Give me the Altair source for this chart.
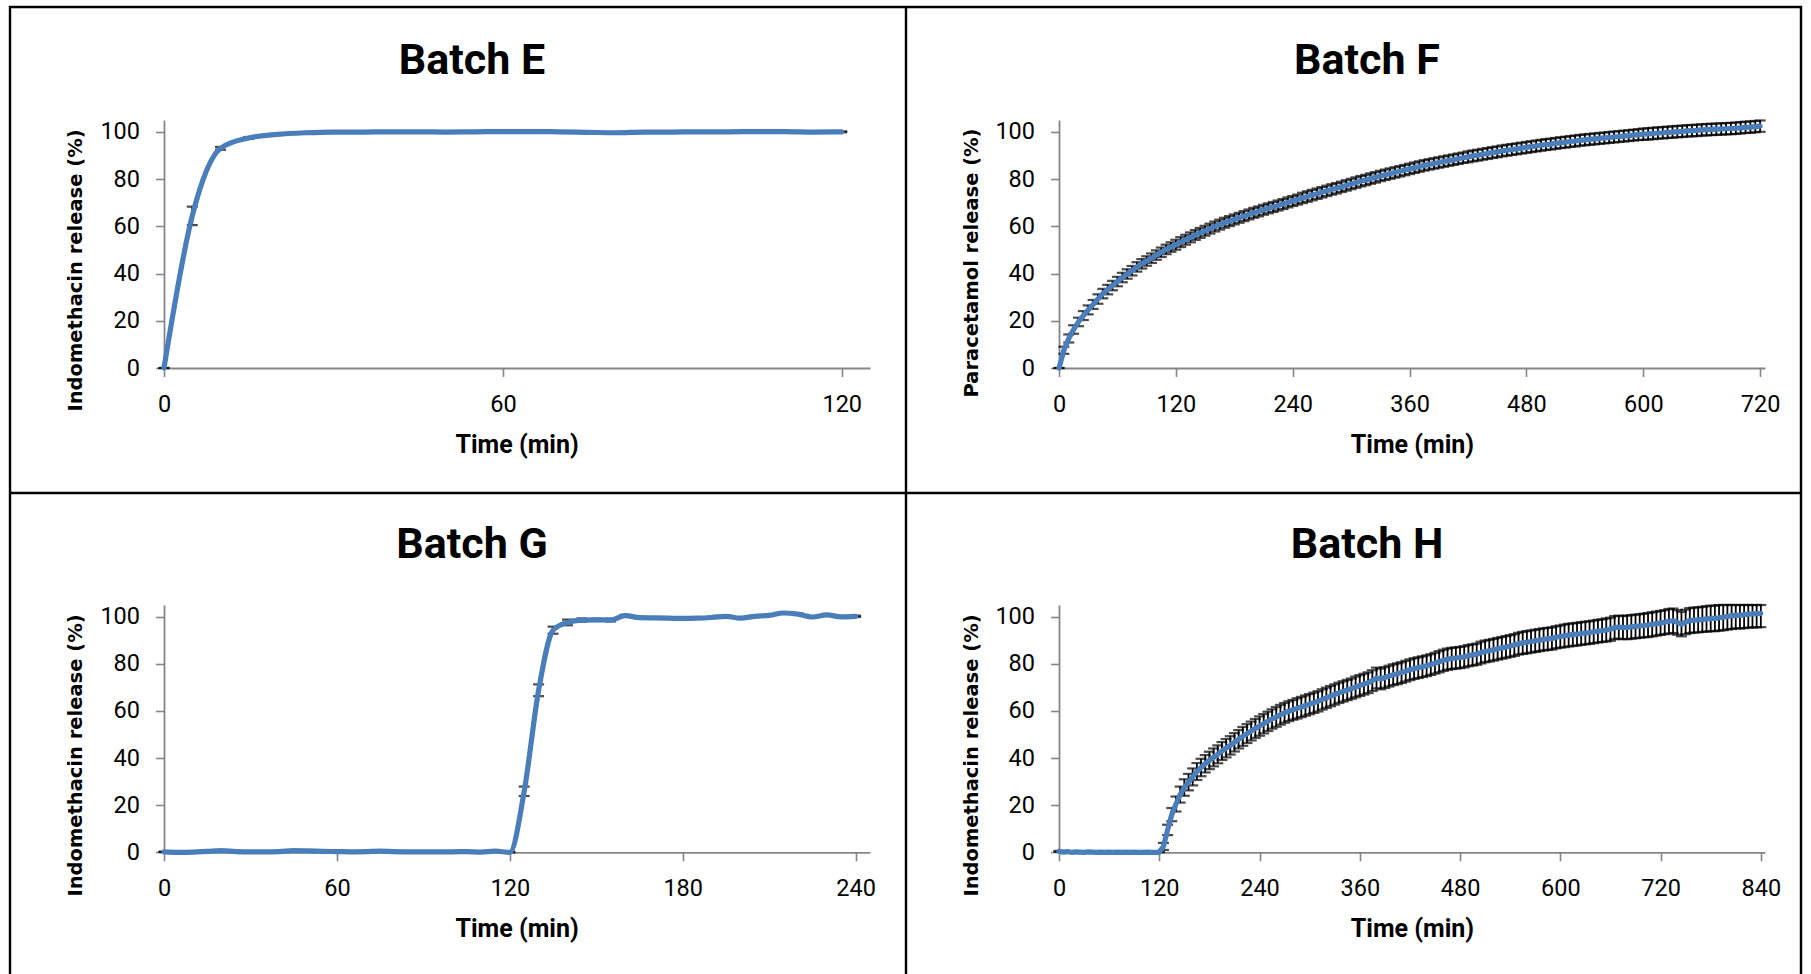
import altair as alt
import pandas as pd

# ---------------- data ----------------
E_TIME = list(range(0, 125, 5))
E_MEAN = [0.0, 64.4, 93.0, 97.4, 98.9, 99.6, 99.9, 99.9, 100.0, 100.0,
          99.9, 100.0, 100.1, 100.1, 100.0, 99.8, 99.6, 99.9, 99.9, 100.0,
          100.0, 100.1, 100.1, 99.9, 100.0]
E_SD = [0.0, 3.9, 0.6, 0.4, 0.3, 0.2, 0.2, 0.2, 0.2, 0.2,
        0.2, 0.2, 0.2, 0.2, 0.2, 0.2, 0.2, 0.2, 0.2, 0.2,
        0.2, 0.2, 0.2, 0.2, 0.2]

F_TIME = list(range(0, 725, 5))
F_MEAN = [0.0, 7.5, 12.5, 16.3, 19.5, 22.2, 24.6, 26.9, 29.2, 31.5,
          33.2, 34.9, 36.6, 38.3, 39.8, 41.2, 42.8, 44.1, 45.3, 46.5,
          47.8, 49.0, 50.2, 51.2, 52.2, 53.3, 54.3, 55.3, 56.3, 57.2,
          58.1, 59.0, 59.9, 60.7, 61.5, 62.2, 62.9, 63.6, 64.3, 65.0,
          65.7, 66.3, 67.0, 67.6, 68.2, 68.8, 69.4, 70.1, 70.7, 71.3,
          72.0, 72.6, 73.2, 73.8, 74.4, 75.0, 75.6, 76.1, 76.7, 77.3,
          77.9, 78.5, 79.1, 79.6, 80.2, 80.7, 81.3, 81.8, 82.3, 82.8,
          83.3, 83.8, 84.3, 84.8, 85.3, 85.8, 86.2, 86.6, 87.0, 87.4,
          87.8, 88.2, 88.6, 89.0, 89.4, 89.8, 90.1, 90.5, 90.8, 91.2,
          91.5, 91.9, 92.2, 92.5, 92.8, 93.1, 93.4, 93.7, 94.0, 94.3,
          94.6, 94.8, 95.1, 95.4, 95.6, 95.9, 96.1, 96.4, 96.6, 96.8,
          97.0, 97.2, 97.4, 97.6, 97.8, 98.0, 98.2, 98.4, 98.6, 98.8,
          99.0, 99.1, 99.3, 99.5, 99.6, 99.8, 99.9, 100.1, 100.2, 100.4,
          100.5, 100.6, 100.8, 100.9, 101.0, 101.1, 101.2, 101.3, 101.4, 101.5,
          101.7, 101.9, 102.0, 102.2, 102.4]
F_SD = [0.0, 1.5, 1.7, 1.8, 1.8, 1.9, 1.9, 1.9, 2.0, 2.0,
        2.0, 2.0, 2.0, 2.0, 2.0, 2.0, 2.0, 2.0, 2.0, 2.0,
        2.0, 2.0, 2.0, 2.0, 2.1, 2.1, 2.1, 2.1, 2.1, 2.1,
        2.1, 2.1, 2.1, 2.1, 2.1, 2.1, 2.1, 2.1, 2.1, 2.1,
        2.1, 2.1, 2.1, 2.1, 2.1, 2.1, 2.1, 2.1, 2.1, 2.1,
        2.2, 2.2, 2.2, 2.2, 2.2, 2.2, 2.2, 2.2, 2.2, 2.2,
        2.2, 2.2, 2.2, 2.2, 2.2, 2.2, 2.2, 2.2, 2.2, 2.2,
        2.2, 2.2, 2.2, 2.2, 2.2, 2.2, 2.2, 2.2, 2.2, 2.2,
        2.2, 2.2, 2.2, 2.2, 2.3, 2.3, 2.3, 2.3, 2.3, 2.3,
        2.3, 2.3, 2.3, 2.3, 2.3, 2.3, 2.3, 2.3, 2.3, 2.3,
        2.3, 2.3, 2.3, 2.3, 2.3, 2.3, 2.3, 2.3, 2.3, 2.3,
        2.3, 2.3, 2.3, 2.3, 2.3, 2.3, 2.3, 2.3, 2.3, 2.3,
        2.4, 2.4, 2.4, 2.4, 2.4, 2.4, 2.4, 2.4, 2.4, 2.4,
        2.4, 2.4, 2.4, 2.4, 2.4, 2.4, 2.4, 2.4, 2.4, 2.4,
        2.4, 2.4, 2.4, 2.4, 2.4]

G_TIME = list(range(0, 245, 5))
G_MEAN = [0.2, 0.0, 0.1, 0.4, 0.7, 0.3, 0.2, 0.2, 0.3, 0.7,
          0.6, 0.4, 0.3, 0.2, 0.3, 0.5, 0.3, 0.2, 0.2, 0.2,
          0.2, 0.3, 0.1, 0.5, 0.0, 25.9, 68.8, 94.3, 97.6, 98.6,
          98.7, 98.6, 100.5, 99.6, 99.5, 99.4, 99.3, 99.4, 99.7, 100.2,
          99.4, 100.2, 100.6, 101.6, 101.1, 99.9, 100.8, 100.0, 100.2]
G_SD = [0.1, 0.1, 0.1, 0.1, 0.1, 0.1, 0.1, 0.1, 0.1, 0.1,
        0.1, 0.1, 0.1, 0.1, 0.1, 0.1, 0.1, 0.1, 0.1, 0.1,
        0.1, 0.1, 0.1, 0.1, 0.3, 2.0, 2.5, 1.5, 1.2, 0.7,
        0.5, 0.6, 0.3, 0.3, 0.3, 0.3, 0.3, 0.3, 0.3, 0.3,
        0.3, 0.3, 0.3, 0.3, 0.3, 0.3, 0.3, 0.3, 0.3]

H_TIME = list(range(0, 845, 5))
H_MEAN = [0.4, 0.1, 0.3, 0.0, 0.2, 0.1, 0.0, 0.2, 0.1, 0.0,
          0.1, 0.0, 0.1, 0.0, 0.1, 0.0, 0.1, 0.0, 0.1, 0.0,
          0.0, 0.1, 0.0, 0.0, 0.0,
          2.5, 9.5, 16.0, 20.5, 24.5, 27.5, 29.8, 32.0, 34.3, 36.0,
          37.6, 39.0, 40.3, 41.6, 43.0, 44.2, 45.4,
          46.7, 48.0, 49.2, 50.4, 51.5, 52.6, 53.6, 54.6, 55.6, 56.6,
          57.5, 58.4, 59.2, 59.9, 60.5, 61.1, 61.7, 62.3, 62.9,
          63.5, 64.1, 64.9, 65.6, 66.3, 67.0, 67.7, 68.3, 68.9, 69.5,
          70.2, 70.8, 71.4, 72.0, 72.9, 74.0, 73.6, 74.2, 74.8, 75.4, 75.8,
          76.3, 76.9, 77.5, 78.0, 78.4, 78.8, 79.2, 79.7, 80.3, 80.9,
          81.5, 82.0, 82.3, 82.5, 82.7, 83.0, 83.5, 83.8, 84.1,
          84.8, 85.3, 85.6, 86.0, 86.4, 86.8, 87.2, 87.6, 88.0, 88.6,
          88.9, 89.2, 89.5, 89.8, 90.1, 90.4, 90.6, 90.8, 91.3, 91.6,
          91.9, 92.2, 92.4, 92.6, 92.9, 93.1, 93.3, 93.6, 93.9, 94.1,
          94.4, 94.7, 95.4, 95.6, 95.4, 95.5, 95.7, 95.9, 96.1, 96.3,
          96.5, 96.8, 97.1, 97.4, 97.7, 98.1, 98.3, 97.6, 96.9, 97.8,
          98.4, 98.6, 98.7, 98.9, 99.1, 99.3, 99.3, 99.6, 99.8, 100.1,
          100.4, 100.7, 100.6, 100.9, 101.1, 101.2, 101.3, 101.4]
H_SD = [0.2, 0.2, 0.2, 0.2, 0.2, 0.2, 0.2, 0.2, 0.2, 0.2,
        0.2, 0.2, 0.2, 0.2, 0.2, 0.2, 0.2, 0.2, 0.2, 0.2,
        0.2, 0.2, 0.2, 0.2, 0.2,
        1.5, 2.2, 2.8, 3.2, 3.4, 3.5, 3.5, 3.6, 3.6, 3.7,
        3.7, 3.7, 3.8, 3.8, 3.8, 3.9, 3.9,
        3.9, 3.9, 4.0, 4.0, 4.0, 4.0, 4.1, 4.1, 4.1, 4.1,
        4.2, 4.2, 4.2, 4.2, 4.2, 4.3, 4.3, 4.3, 4.3,
        4.3, 4.3, 4.3, 4.3, 4.3, 4.3, 4.3, 4.3, 4.3, 4.3,
        4.4, 4.4, 4.4, 4.4, 4.4, 4.4, 4.4, 4.4, 4.4, 4.4, 4.4,
        4.4, 4.4, 4.4, 4.4, 4.4, 4.4, 4.4, 4.4, 4.4, 4.5,
        4.5, 4.5, 4.5, 4.5, 4.5, 4.5, 4.5, 4.5, 4.5,
        4.6, 4.6, 4.6, 4.6, 4.6, 4.6, 4.6, 4.6, 4.6, 4.6,
        4.7, 4.7, 4.7, 4.7, 4.7, 4.7, 4.7, 4.7, 4.7, 4.7,
        4.8, 4.8, 4.8, 4.8, 4.8, 4.8, 4.8, 4.8, 4.8, 4.8,
        4.9, 4.9, 4.9, 4.9, 4.9, 5.0, 5.0, 5.0, 5.0, 5.0,
        5.1, 5.1, 5.1, 5.1, 5.1, 5.2, 5.2, 5.2, 5.2, 5.2,
        5.3, 5.3, 5.3, 5.3, 5.4, 5.4, 5.4, 5.5, 5.5, 5.5,
        5.6, 5.6, 5.6, 5.7, 5.7, 5.7, 5.8, 5.8]

TITLES = ["Batch E", "Batch F", "Batch G", "Batch H"]
Y_TITLES = ["Indomethacin release (%)", "Paracetamol release (%)",
            "Indomethacin release (%)", "Indomethacin release (%)"]
X_TITLE = "Time (min)"
Y_TICKS = [0, 20, 40, 60, 80, 100]

# ---------------- styling ----------------
BLUE = "#4A7EBB"
GREY = "#868686"
NUM_FONT = "Roboto"
YT_FONT = "DejaVu Sans"
W, H = 1811, 974


def panel(time, mean, sd, xmax, xticks, xr, yr, x_off, y_off,
          ytitle, yt_x, yt_y, xt_x, interp):
    df = pd.DataFrame({"t": time, "m": mean, "s": sd})
    df["lo"] = (df["m"] - df["s"]).clip(lower=0)
    df["hi"] = (df["m"] + df["s"]).clip(upper=105)
    xs = alt.Scale(domain=[0, xmax], range=xr, nice=False, zero=False)
    ys = alt.Scale(domain=[0, 105], range=yr, nice=False, zero=False)
    xa = alt.Axis(orient="bottom", offset=x_off, values=xticks, format="d",
                  title=X_TITLE, titleX=xt_x, titleY=84, titleAlign="center",
                  titleBaseline="alphabetic", titleFont=NUM_FONT, titleFontSize=25,
                  titleFontWeight="bold", titleColor="black",
                  labelFont=NUM_FONT, labelFontSize=23.5, labelColor="black",
                  labelPadding=16, labelFlush=False, labelOverlap=False,
                  tickSize=8.5, tickWidth=1.6, tickColor=GREY,
                  domainColor=GREY, domainWidth=1.8, grid=False)
    ya = alt.Axis(orient="left", offset=y_off, values=Y_TICKS, format="d",
                  title=ytitle, titleX=yt_x, titleY=yt_y, titleAngle=270,
                  titleAlign="center", titleBaseline="middle",
                  titleFont=YT_FONT, titleFontSize=19.5, titleFontWeight="bold",
                  titleColor="black",
                  labelFont=NUM_FONT, labelFontSize=23.5, labelColor="black",
                  labelPadding=16, labelFlush=False, labelOverlap=False,
                  tickSize=8.5, tickWidth=1.6, tickColor=GREY,
                  domainColor=GREY, domainWidth=1.8, grid=False)
    base = alt.Chart(df)
    x = alt.X("t:Q", scale=xs, axis=xa)
    bars = base.mark_rule(color="black", strokeWidth=1.8).encode(
        x=x, y=alt.Y("lo:Q", scale=ys, axis=ya), y2="hi:Q")
    caps = base.transform_fold(["lo", "hi"], as_=["k", "v"]).mark_tick(
        orient="horizontal", size=11, thickness=2.2, color="black").encode(
        x=x, y=alt.Y("v:Q", scale=ys, axis=ya))
    line = base.mark_line(color=BLUE, strokeWidth=5.2, interpolate=interp,
                          strokeCap="round", strokeJoin="round").encode(
        x=x, y=alt.Y("m:Q", scale=ys, axis=ya))
    return alt.layer(bars, caps, line)


pE = panel(E_TIME, E_MEAN, E_SD, 125, [0, 60, 120], [164, 870], [368, 120],
           -(H - 368), -164, Y_TITLES[0], -88.4, 270, 516.6, "monotone")
pF = panel(F_TIME, F_MEAN, F_SD, 725, [0, 120, 240, 360, 480, 600, 720],
           [1059, 1765], [368, 120], -(H - 368), -1059, Y_TITLES[1],
           -87.6, 262.5, 1412, "linear")
pG = panel(G_TIME, G_MEAN, G_SD, 245, [0, 60, 120, 180, 240], [164, 870],
           [852.3, 605], -(H - 852.3), -164, Y_TITLES[2], -88.4, 755, 516.6,
           "monotone")
pH = panel(H_TIME, H_MEAN, H_SD, 845, [0, 120, 240, 360, 480, 600, 720, 840],
           [1059, 1765], [852.3, 605], -(H - 852.3), -1059, Y_TITLES[3],
           -87.6, 755, 1412, "linear")


def title_mark(text, xpos, ypos):
    return alt.Chart(pd.DataFrame({"label": [text]})).mark_text(
        font=NUM_FONT, fontSize=43, fontWeight="bold", color="black",
        align="center", baseline="alphabetic").encode(
        x=alt.value(xpos), y=alt.value(ypos), text="label:N")


tE = title_mark(TITLES[0], 472, 74)
tF = title_mark(TITLES[1], 1367, 74)
tG = title_mark(TITLES[2], 472, 558)
tH = title_mark(TITLES[3], 1367, 558)

one = pd.DataFrame({"k": [0]})
frame = alt.Chart(one).mark_rect(fillOpacity=0, stroke="black", strokeWidth=2.4).encode(
    x=alt.value(10), x2=alt.value(1801), y=alt.value(7), y2=alt.value(1010))
vdiv = alt.Chart(one).mark_rule(color="black", strokeWidth=2.4).encode(
    x=alt.value(906), y=alt.value(7), y2=alt.value(1010))
hdiv = alt.Chart(one).mark_rule(color="black", strokeWidth=2.4).encode(
    x=alt.value(10), x2=alt.value(1801), y=alt.value(493))

chart = alt.layer(frame, vdiv, hdiv, pE, pF, pG, pH, tE, tF, tG, tH).resolve_scale(
    x="independent", y="independent"
).properties(
    width=W, height=H, autosize=alt.AutoSizeParams(type="none"), padding=0,
    background="white"
).configure_view(strokeWidth=0)

chart.save("out.html", embed_options={"renderer": "svg", "actions": False})
